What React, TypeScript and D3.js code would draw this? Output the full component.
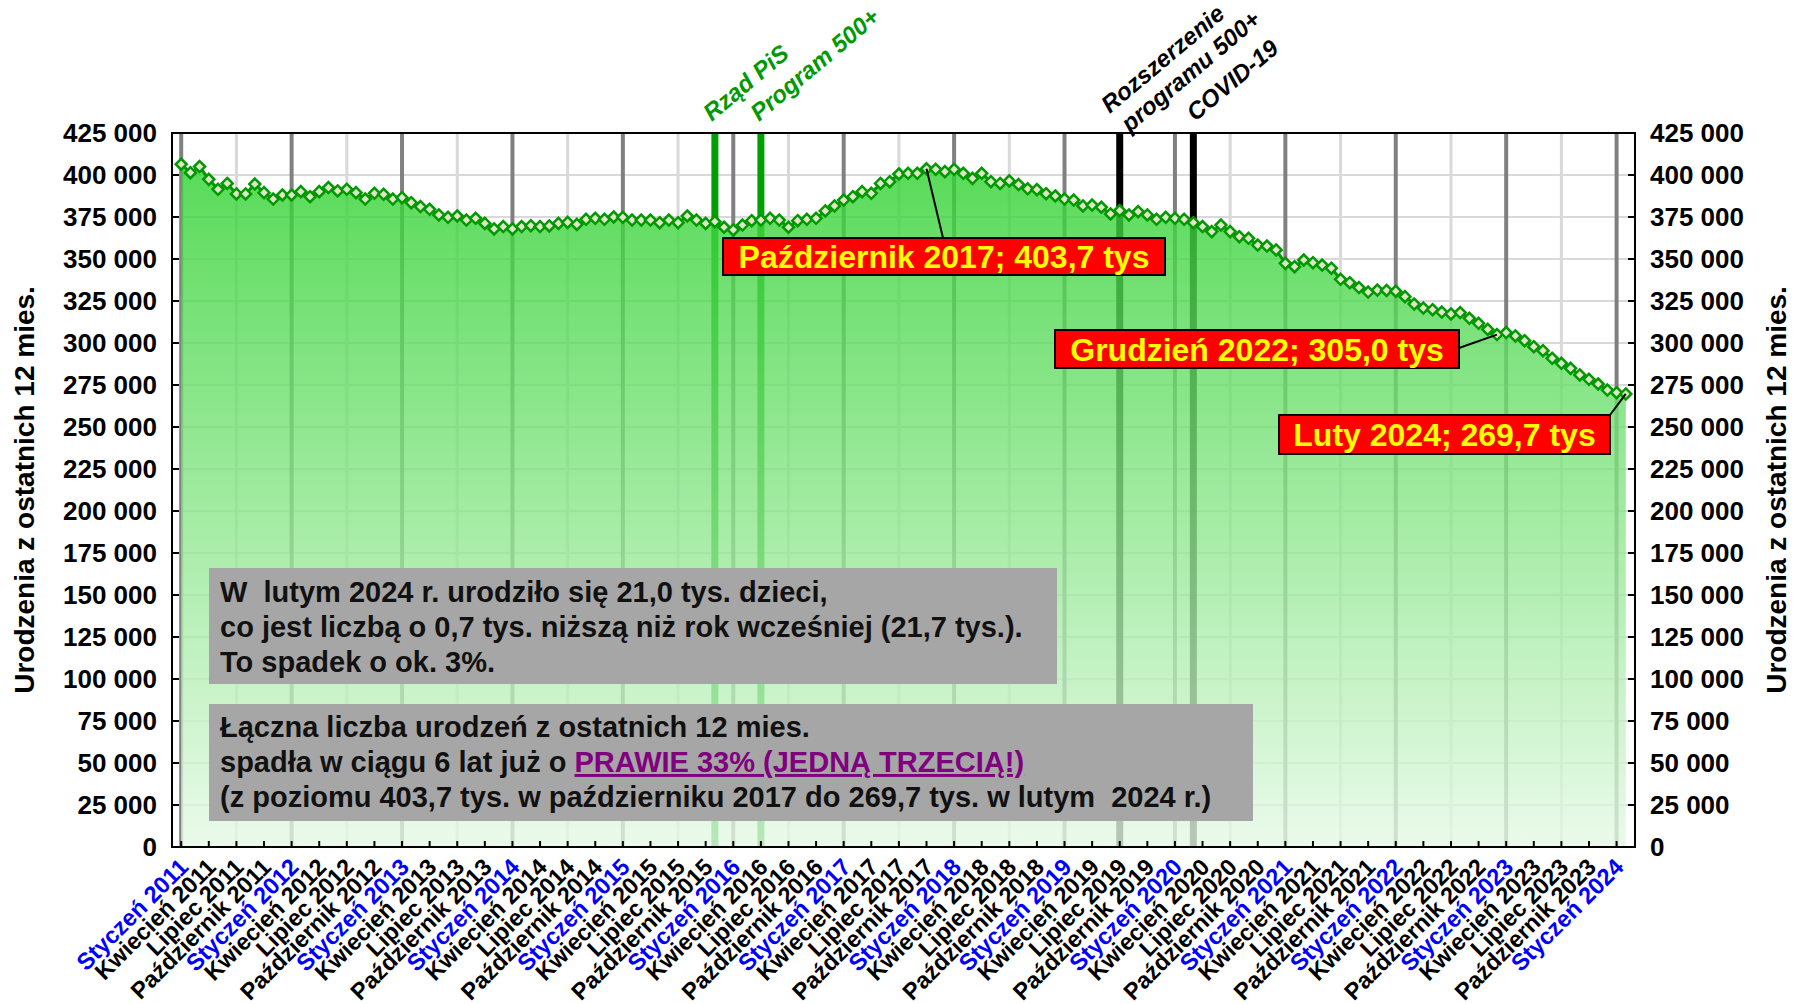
import React, { useRef, useEffect } from "react";
import { select, scalePoint, scaleLinear, area, line, range } from "d3";

const MONTH_NAMES = ["Styczeń", "Luty", "Marzec", "Kwiecień", "Maj", "Czerwiec", "Lipiec", "Sierpień", "Wrzesień", "Październik", "Listopad", "Grudzień"];
const YEARS = [2011, 2012, 2013, 2014, 2015, 2016, 2017, 2018, 2019, 2020, 2021, 2022, 2023, 2024];

// urodzenia z ostatnich 12 miesięcy, styczeń 2011 - luty 2024
const births = [
  406400, 401400, 405000, 397400, 391500, 395000, 388700, 388700, 394600, 389500, 385700, 388100,
  388100, 390100, 387100, 390100, 392500, 390500, 391500, 389500, 385700, 389100, 388500, 385700,
  386500, 383500, 381200, 379600, 376200, 374800, 375600, 373200, 374200, 371200, 367900, 369300,
  367900, 369300, 369800, 369300, 369700, 371200, 371800, 370600, 373600, 374200, 373600, 375000,
  374800, 373200, 373200, 373200, 371600, 373200, 371600, 375600, 373200, 371200, 372200, 368900,
  367300, 370200, 372800, 373200, 374200, 373200, 368900, 372800, 373600, 374200, 378600, 381600,
  385100, 387100, 390100, 389100, 395000, 396000, 400600, 401000, 401000, 403700, 403400, 402000,
  403400, 401000, 398000, 401000, 396000, 395000, 396500, 394300, 391800, 391300, 388900, 387500,
  385700, 385100, 381600, 382100, 380800, 376800, 378800, 376200, 378200, 376200, 373600, 374800,
  374200, 373600, 371600, 369300, 366300, 370200, 366300, 363300, 362300, 358300, 357700, 355400,
  347400, 345400, 349400, 347800, 346400, 344500, 337900, 335900, 333000, 330300, 331500, 331300,
  330800, 327600, 323200, 320800, 319800, 318400, 317300, 318100, 314700, 311700, 308100, 305000,
  306200, 304200, 301400, 297800, 295400, 290900, 287900, 284900, 281000, 278400, 275600, 272000,
  270400, 269700,
];

const months = YEARS.flatMap((yr) => MONTH_NAMES.map((m) => m + " " + yr)).slice(0, births.length);
const yTicks = range(0, 425001, 25000);

const eventLines = [
  { month: "Listopad 2015", color: "#00a000" },
  { month: "Kwiecień 2016", color: "#00a000" },
  { month: "Lipiec 2019", color: "#000000" },
  { month: "Marzec 2020", color: "#000000" },
];
const eventLabels = [
  { month: "Listopad 2015", text: "Rząd PiS", color: "#009900" },
  { month: "Kwiecień 2016", text: "Program 500+", color: "#009900" },
  { month: "Lipiec 2019", text: "Rozszerzenie", color: "#000000" },
  { month: "Lipiec 2019", text: "programu 500+", color: "#000000" },
  { month: "Marzec 2020", text: "COVID-19", color: "#000000" },
];
const callouts = [
  { month: "Październik 2017", text: "Październik 2017; 403,7 tys" },
  { month: "Grudzień 2022", text: "Grudzień 2022; 305,0 tys" },
  { month: "Luty 2024", text: "Luty 2024; 269,7 tys" },
];
const note1 = [
  "W  lutym 2024 r. urodziło się 21,0 tys. dzieci,",
  "co jest liczbą o 0,7 tys. niższą niż rok wcześniej (21,7 tys.).",
  "To spadek o ok. 3%.",
];
const note2a = "Łączna liczba urodzeń z ostatnich 12 mies.";
const note2b = "spadła w ciągu 6 lat już o ";
const note2hl = "PRAWIE 33% (JEDNĄ TRZECIĄ!)";
const note2c = "(z poziomu 403,7 tys. w październiku 2017 do 269,7 tys. w lutym  2024 r.)";

const FONT = "'Liberation Sans', Arial, sans-serif";

function App() {
  const svgRef = useRef<SVGSVGElement>(null);

  useEffect(() => {
    const svg = select(svgRef.current);
    svg.selectAll("*").remove();
    const left = 172, right = 1635, top = 133, bottom = 847;

    const x = scalePoint<string>().domain(months).range([left, right]).padding(1);
    const y = scaleLinear().domain([0, 425000]).range([bottom, top]);
    const data = months.map((m, i) => ({ m, v: births[i] }));

    const defs = svg.append("defs");
    const grad = defs.append("linearGradient").attr("id", "fillGrad")
      .attr("gradientUnits", "userSpaceOnUse").attr("x1", 0).attr("x2", 0).attr("y1", top).attr("y2", bottom);
    grad.append("stop").attr("offset", "0%").attr("stop-color", "#26d026");
    grad.append("stop").attr("offset", "100%").attr("stop-color", "#e6f9e6");

    svg.append("rect").attr("width", 1796).attr("height", 1004).attr("fill", "#fff");

    // siatka
    const g = svg.append("g");
    g.selectAll(".hgrid").data(yTicks).join("line")
      .attr("x1", left).attr("x2", right).attr("y1", (d) => y(d)).attr("y2", (d) => y(d))
      .attr("stroke", "#d9d9d9").attr("stroke-width", 2);
    const vg = months.filter((m, i) => i % 6 === 0);
    g.selectAll(".vgrid").data(vg).join("line")
      .attr("x1", (d) => x(d)!).attr("x2", (d) => x(d)!).attr("y1", top).attr("y2", bottom)
      .attr("stroke", (d) => (d.startsWith("Styczeń") ? "#808080" : "#d9d9d9"))
      .attr("stroke-width", (d) => (d.startsWith("Styczeń") ? 4 : 3));

    g.selectAll(".ev").data(eventLines).join("line")
      .attr("x1", (d) => x(d.month)!).attr("x2", (d) => x(d.month)!).attr("y1", top).attr("y2", bottom)
      .attr("stroke", (d) => d.color).attr("stroke-width", 7);

    // obszar i linia
    const ar = area<any>().x((d) => x(d.m)!).y0(bottom).y1((d) => y(d.v));
    svg.append("path").datum(data).attr("d", ar).attr("fill", "url(#fillGrad)").attr("opacity", 0.8);
    const ln = line<any>().x((d) => x(d.m)!).y((d) => y(d.v));
    svg.append("path").datum(data).attr("d", ln).attr("fill", "none").attr("stroke", "#009900").attr("stroke-width", 3);
    svg.selectAll(".pt").data(data).join("path")
      .attr("d", "M0,-5.5L5.5,0L0,5.5L-5.5,0Z")
      .attr("transform", (d) => `translate(${x(d.m)},${y(d.v)})`)
      .attr("fill", "#dfe6c8").attr("stroke", "#009900").attr("stroke-width", 2.5);

    // ramka i osie
    svg.append("rect").attr("x", left).attr("y", top).attr("width", right - left).attr("height", bottom - top)
      .attr("fill", "none").attr("stroke", "#000").attr("stroke-width", 2);
    svg.selectAll(".tl").data(yTicks).join("line")
      .attr("x1", left).attr("x2", left + 7).attr("y1", (d) => y(d)).attr("y2", (d) => y(d)).attr("stroke", "#000").attr("stroke-width", 2);
    svg.selectAll(".tr").data(yTicks).join("line")
      .attr("x1", right - 7).attr("x2", right).attr("y1", (d) => y(d)).attr("y2", (d) => y(d)).attr("stroke", "#000").attr("stroke-width", 2);
    const fmt = (d: number) => (d === 0 ? "0" : `${Math.floor(d / 1000)} ${String(d % 1000).padStart(3, "0")}`);
    svg.selectAll(".yl").data(yTicks).join("text")
      .attr("x", 157).attr("y", (d) => y(d)).attr("dy", "0.35em").attr("text-anchor", "end")
      .attr("font-family", FONT).attr("font-weight", "bold").attr("font-size", 26).text(fmt);
    svg.selectAll(".yr").data(yTicks).join("text")
      .attr("x", 1650).attr("y", (d) => y(d)).attr("dy", "0.35em").attr("text-anchor", "start")
      .attr("font-family", FONT).attr("font-weight", "bold").attr("font-size", 26).text(fmt);
    [24, 1776].forEach((tx) => {
      svg.append("text").attr("transform", `translate(${tx},490) rotate(-90)`).attr("text-anchor", "middle")
        .attr("dy", "0.35em").attr("font-family", FONT).attr("font-weight", "bold").attr("font-size", 28)
        .text("Urodzenia z ostatnich 12 mies.");
    });

    const xl = months.filter((m, i) => i % 3 === 0);
    svg.selectAll(".xt").data(xl).join("line")
      .attr("x1", (d) => x(d)!).attr("x2", (d) => x(d)!).attr("y1", bottom).attr("y2", bottom - 6).attr("stroke", "#000").attr("stroke-width", 2);
    svg.selectAll(".xl").data(xl).join("text")
      .attr("transform", (d) => `translate(${x(d)! - 4},856) rotate(-45)`)
      .attr("text-anchor", "end").attr("dy", "0.75em")
      .attr("font-family", FONT).attr("font-weight", "bold").attr("font-size", 23.5)
      .attr("fill", (d) => (d.startsWith("Styczeń") ? "#0000ff" : "#000"))
      .text((d) => d);

    // opisy zdarzeń
    const evOff: Record<string, [number, number]> = {
      "Rząd PiS": [-3, 122], "Program 500+": [-2, 122], "Rozszerzenie": [-10, 114],
      "programu 500+": [10, 133], "COVID-19": [2, 122],
    };
    svg.selectAll(".evl").data(eventLabels).join("text")
      .attr("transform", (d) => `translate(${x(d.month)! + evOff[d.text][0]},${evOff[d.text][1]}) rotate(-40)`)
      .attr("font-family", FONT).attr("font-weight", "bold").attr("font-style", "italic").attr("font-size", 24)
      .attr("fill", (d) => d.color).text((d) => d.text);

    // etykiety wartości
    const boxes = [
      { x: 723, y: 238, w: 442, h: 37, lx: 943, ly: 238 },
      { x: 1055, y: 330, w: 404, h: 38, lx: 1459, ly: 348 },
      { x: 1279, y: 415, w: 331, h: 39, lx: 1610, ly: 415 },
    ];
    callouts.forEach((c, i) => {
      const b = boxes[i];
      svg.append("line").attr("x1", x(c.month)!).attr("y1", y(births[months.indexOf(c.month)]))
        .attr("x2", b.lx).attr("y2", b.ly).attr("stroke", "#000").attr("stroke-width", 2);
      svg.append("rect").attr("x", b.x).attr("y", b.y).attr("width", b.w).attr("height", b.h)
        .attr("fill", "#ff0000").attr("stroke", "#000").attr("stroke-width", 2);
      svg.append("text").attr("x", b.x + b.w / 2).attr("y", b.y + b.h / 2).attr("dy", "0.36em")
        .attr("text-anchor", "middle").attr("font-family", FONT).attr("font-weight", "bold").attr("font-size", 32)
        .attr("fill", "#ffff00").text(c.text);
    });

    // ramki z komentarzem
    svg.append("rect").attr("x", 209).attr("y", 568).attr("width", 848).attr("height", 116).attr("fill", "#a6a6a6");
    const t1 = svg.append("g").attr("font-family", FONT).attr("font-weight", "bold").attr("font-size", 29)
      .attr("fill", "#111");
    note1.forEach((t, i) => {
      t1.append("text").attr("x", 220).attr("y", 602 + i * 35)
        .attr("xml:space", "preserve").style("white-space", "pre").text(t);
    });
    svg.append("rect").attr("x", 209).attr("y", 704).attr("width", 1044).attr("height", 117).attr("fill", "#a6a6a6");
    const t2 = svg.append("g").attr("font-family", FONT).attr("font-weight", "bold").attr("font-size", 29)
      .attr("fill", "#111");
    t2.append("text").attr("x", 220).attr("y", 737).text(note2a);
    const mid = t2.append("text").attr("x", 220).attr("y", 772)
      .attr("xml:space", "preserve").style("white-space", "pre");
    mid.append("tspan").text(note2b);
    mid.append("tspan").attr("fill", "#800080").attr("text-decoration", "underline").text(note2hl);
    t2.append("text").attr("x", 220).attr("y", 807)
      .attr("xml:space", "preserve").style("white-space", "pre").text(note2c);
  }, []);

  return (
    <svg ref={svgRef} width={1796} height={1004} style={{ position: "absolute", left: 0, top: 0 }} />
  );
}

export default App;
